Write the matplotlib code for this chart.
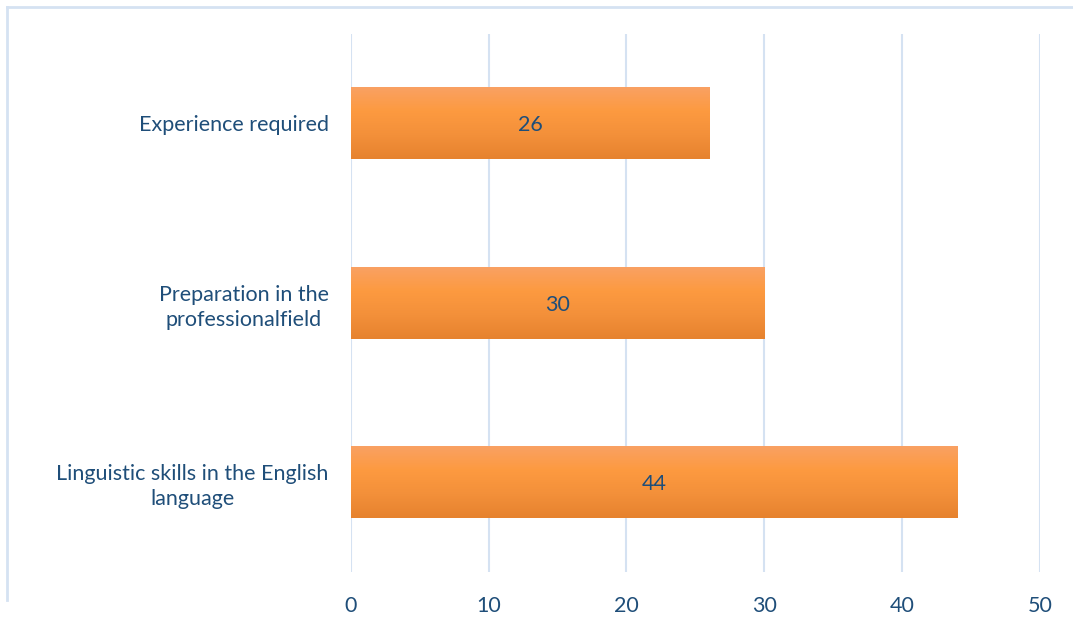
import matplotlib.pyplot as plt
import numpy as np
from matplotlib.colors import LinearSegmentedColormap
from matplotlib.lines import Line2D

# Data for the chart
categories = ["Linguistic skills in the English\nlanguage",
              "Preparation in the\nprofessionalfield",
              "Experience required"]
values = [44, 30, 26]
ticks = [0, 10, 20, 30, 40, 50]

text_color = "#1F4E79"
grid_color = "#D5E2F2"

plt.rcParams['font.family'] = ['Lato', 'DejaVu Sans']

fig = plt.figure(figsize=(10.73, 6.22), dpi=100)
ax = fig.add_axes([0.327, 0.080, 0.642, 0.866])

# Orange vertical gradient used to fill each bar
grad = LinearSegmentedColormap.from_list(
    "bar", ["#F9A163", "#FD9A40", "#F3903A", "#E6822E"])
gradient = np.linspace(0, 1, 256).reshape(-1, 1)

y = np.arange(len(categories))
bars = ax.barh(y, values, height=0.4, color="none", zorder=3)
for bar, v in zip(bars, values):
    x0, y0 = bar.get_x(), bar.get_y()
    w, h = bar.get_width(), bar.get_height()
    ax.imshow(gradient, cmap=grad, aspect="auto", zorder=3,
              extent=[x0, x0 + w, y0, y0 + h], origin="upper")
    ax.text(x0 + w / 2, y0 + h / 2 - 0.01, str(v), ha="center", va="center",
            fontsize=15.5, color=text_color, zorder=4)

ax.set_xlim(0, 50)
ax.set_ylim(-0.5, 2.5)
ax.set_xticks(ticks)
ax.set_yticks(y)
ax.set_yticklabels(categories, fontsize=15.5, color=text_color, ha="right",
                   linespacing=1.3)
ax.tick_params(axis="x", labelsize=15.5, colors=text_color, length=0, pad=17)
ax.tick_params(axis="y", length=0, pad=16)
for lbl in ax.get_yticklabels():
    lbl.set_multialignment("center")

ax.grid(axis="x", color=grid_color, linewidth=1.5, zorder=0)
ax.set_axisbelow(True)
for s in ax.spines.values():
    s.set_visible(False)

# Light blue frame around the chart area
fig.add_artist(Line2D([0.0065, 0.0065], [0.035, 0.989], color=grid_color,
                      linewidth=2, transform=fig.transFigure))
fig.add_artist(Line2D([0.0065, 1.0], [0.989, 0.989], color=grid_color,
                      linewidth=2, transform=fig.transFigure))

fig.savefig("out.png", dpi=100)
